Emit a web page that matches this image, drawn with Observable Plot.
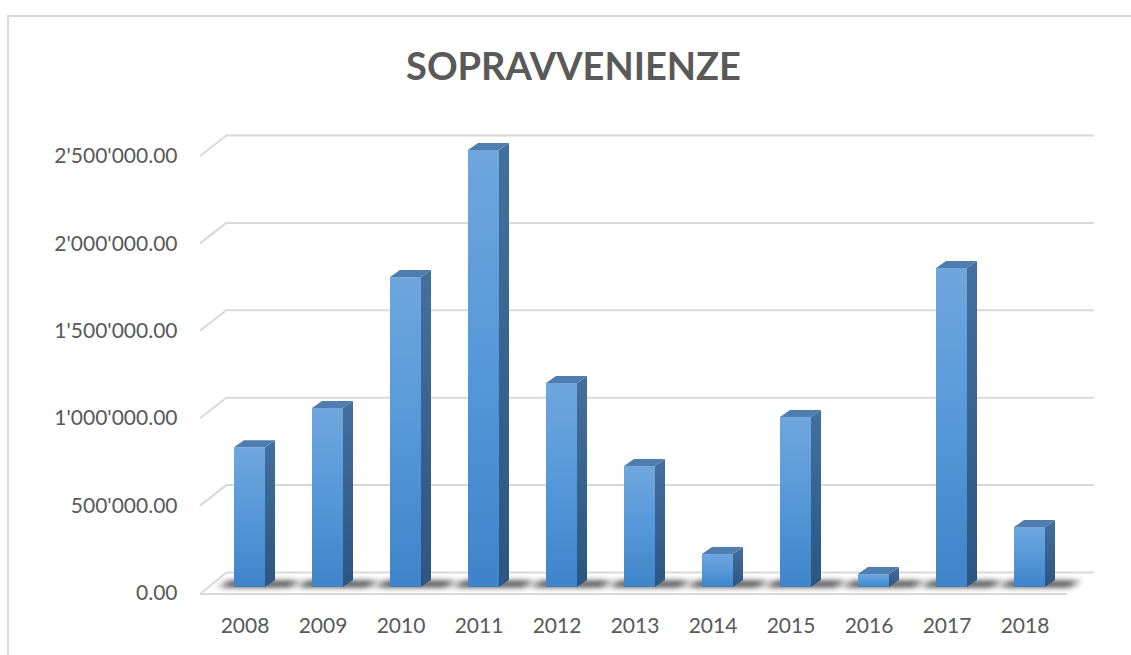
<!DOCTYPE html>
<html>
<head>
<meta charset="utf-8">
<script src="https://cdn.jsdelivr.net/npm/d3@7"></script>
<script src="https://cdn.jsdelivr.net/npm/@observablehq/plot@0.6"></script>
<style>
  html, body { margin: 0; padding: 0; background: #fff; overflow: hidden; }
  #wrap { position: relative; width: 1131px; height: 655px; overflow: hidden; }
  #frame { position: absolute; left: 7px; top: 15px; width: 1200px; height: 700px; border: 2px solid #d9d9d9; box-sizing: border-box; }
  #title { position: absolute; left: 573.5px; top: 46px; transform: translateX(-50%); font-family: Lato, "Open Sans", sans-serif; font-weight: bold; font-size: 38px; line-height: 38px; color: #595959; white-space: nowrap; }
  #chart { position: absolute; left: 0; top: 0; }
</style>
</head>
<body>
<div id="wrap">
  <div id="frame"></div>
  <div id="title"></div>
  <div id="chart"></div>
</div>
<script>
const title = "SOPRAVVENIENZE";
const years = ["2008", "2009", "2010", "2011", "2012", "2013", "2014", "2015", "2016", "2017", "2018"];
const values = [800000, 1024000, 1773000, 2500000, 1167000, 692000, 189000, 973000, 74000, 1825000, 343000];
const yTicks = [0, 500000, 1000000, 1500000, 2000000, 2500000];

const data = years.map((year, i) => ({year, value: values[i]}));
const fmt = d3.formatLocale({decimal: ".", thousands: "'", grouping: [3], currency: ["", ""]}).format(",.2f");

document.getElementById("title").textContent = title;

// 3D geometry offsets (pixels)
const WALL_DX = 27, WALL_DY = -21;   // back wall relative to front plane
const BAR_DX = 6, BAR_DY = -6;       // bar front plane
const DEPTH_DX = 10, DEPTH_DY = -7;  // bar depth

function floorMark(index, scales, values, dim) {
  const {y} = scales;
  const g = d3.create("svg:g");
  const x0 = dim.marginLeft, x1 = dim.width - dim.marginRight, y0 = y(0);
  g.append("polygon")
    .attr("points", [[x0, y0], [x0 + WALL_DX, y0 + WALL_DY], [x1 + WALL_DX, y0 + WALL_DY], [x1, y0]].join(" "))
    .attr("fill", "#fff").attr("stroke", "none");
  g.append("line").attr("x1", x0).attr("x2", x1).attr("y1", y0 + 1).attr("y2", y0 + 1)
    .attr("stroke", "#d9d9d9").attr("stroke-width", 2);
  for (const t of yTicks) {
    g.append("line")
      .attr("x1", x0).attr("y1", y(t) + (t === 0 ? 1 : 0))
      .attr("x2", x0 + WALL_DX).attr("y2", y(t) + WALL_DY)
      .attr("stroke", "#d9d9d9").attr("stroke-width", 2);
  }
  return g.node();
}

function shadowMark(index, scales, values, dim) {
  const {x, y} = scales;
  const bw = x.bandwidth();
  const g = d3.create("svg:g");
  const defs = g.append("defs");
  defs.append("filter").attr("id", "shblur").attr("x", "-50%").attr("y", "-200%").attr("width", "200%").attr("height", "500%")
    .append("feGaussianBlur").attr("stdDeviation", "4.5 2.5");
  for (const d of data) {
    const bx = x(d.year) + BAR_DX;
    const by = y(0) + BAR_DY;
    g.append("polygon")
      .attr("points", [[bx - 14, by + 1], [bx - 6, by - 7], [bx + bw + 34, by - 7], [bx + bw + 26, by + 1]].join(" "))
      .attr("fill", "#2b2b2b").attr("opacity", 0.7).attr("filter", "url(#shblur)");
  }
  return g.node();
}

function barsMark(index, scales, values, dim) {
  const {x, y} = scales;
  const bw = x.bandwidth();
  const g = d3.create("svg:g");
  const defs = g.append("defs");
  const lg = (id, stops) => {
    const l = defs.append("linearGradient").attr("id", id).attr("x1", 0).attr("y1", 0).attr("x2", 0).attr("y2", 1);
    stops.forEach(([o, c]) => l.append("stop").attr("offset", o).attr("stop-color", c));
  };
  lg("gFront", [[0, "#6fa6de"], [0.5, "#5598d9"], [1, "#3f84c9"]]);
  lg("gSide", [[0, "#43709f"], [1, "#2c5682"]]);
  for (const d of data) {
    const x0 = x(d.year) + BAR_DX;
    const x1 = x0 + bw;
    const yb = y(0) + BAR_DY;
    const yt = y(d.value) + BAR_DY;
    g.append("polygon")
      .attr("points", [[x1, yt], [x1 + DEPTH_DX, yt + DEPTH_DY], [x1 + DEPTH_DX, yb + DEPTH_DY], [x1, yb]].join(" "))
      .attr("fill", "url(#gSide)");
    g.append("polygon")
      .attr("points", [[x0, yt], [x0 + DEPTH_DX, yt + DEPTH_DY], [x1 + DEPTH_DX, yt + DEPTH_DY], [x1, yt]].join(" "))
      .attr("fill", "#4f7db0");
    g.append("rect")
      .attr("x", x0).attr("y", yt).attr("width", bw).attr("height", Math.max(0, yb - yt))
      .attr("fill", "url(#gFront)");
  }
  return g.node();
}

const chart = Plot.plot({
  width: 1131,
  height: 655,
  marginLeft: 200,
  marginRight: 64,
  marginTop: 156,
  marginBottom: 62,
  style: {fontFamily: "Lato, 'Open Sans', sans-serif", fontSize: "21px", color: "#595959", background: "transparent", overflow: "visible"},
  x: {type: "band", domain: years, paddingInner: 0.6, paddingOuter: 0.3},
  y: {domain: [0, 2500000]},
  marks: [
    floorMark,
    Plot.ruleY(yTicks, {dx: WALL_DX, dy: WALL_DY, stroke: "#d9d9d9", strokeWidth: 2}),
    shadowMark,
    barsMark,
    Plot.axisY(yTicks, {tickSize: 0, tickPadding: 23, tickFormat: fmt, label: null, fontSize: 21}),
    Plot.axisX({tickSize: 0, tickPadding: 25, dx: 1, label: null, fontSize: 21})
  ]
});
document.getElementById("chart").appendChild(chart);
</script>
</body>
</html>
